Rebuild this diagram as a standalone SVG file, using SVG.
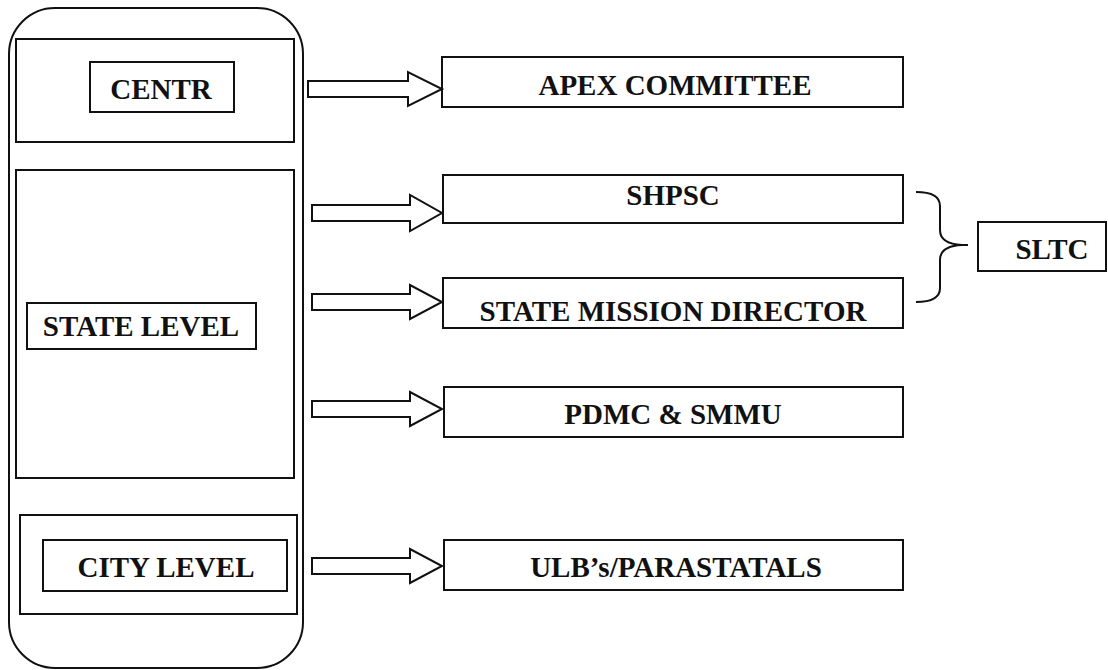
<svg xmlns="http://www.w3.org/2000/svg" width="1108" height="670" viewBox="0 0 1108 670">
<style>
.frame{fill:none;stroke:#111;stroke-width:2}
.box{fill:#fff;stroke:#111;stroke-width:2}
.arrow{fill:#fff;stroke:#111;stroke-width:2;stroke-linejoin:miter}
.lbl{font-family:'Liberation Serif','Times New Roman',serif;font-weight:bold;font-size:29px;fill:#111;text-anchor:middle}
</style>
<rect width="1108" height="670" fill="#fff"/>
<g id="outer">
<rect class="frame" x="9" y="8" width="294" height="660" rx="46" ry="46"/>
</g>
<g id="centre-section">
<rect class="frame" x="16" y="39" width="278" height="103"/>
</g>
<g id="centr">
<rect class="box" x="90" y="62" width="144" height="50"/>
<text class="lbl" x="161" y="99">CENTR</text>
</g>
<g id="state-section">
<rect class="frame" x="16" y="170" width="278" height="308"/>
</g>
<g id="state-level">
<rect class="box" x="27" y="303" width="229" height="46"/>
<text class="lbl" x="141" y="336">STATE LEVEL</text>
</g>
<g id="city-section">
<rect class="frame" x="20" y="515" width="277" height="99"/>
</g>
<g id="city-level">
<rect class="box" x="43" y="540" width="244" height="51"/>
<text class="lbl" x="166" y="577">CITY LEVEL</text>
</g>
<g id="apex">
<rect class="box" x="442" y="57" width="461" height="50"/>
<text class="lbl" x="675" y="95">APEX COMMITTEE</text>
</g>
<g id="shpsc">
<rect class="box" x="443" y="175" width="460" height="48"/>
<text class="lbl" x="673" y="205">SHPSC</text>
</g>
<g id="smd">
<rect class="box" x="443" y="278" width="460" height="50"/>
<text class="lbl" x="673" y="321">STATE MISSION DIRECTOR</text>
</g>
<g id="pdmc">
<rect class="box" x="444" y="387" width="459" height="50"/>
<text class="lbl" x="673" y="424">PDMC &amp; SMMU</text>
</g>
<g id="ulb">
<rect class="box" x="444" y="540" width="459" height="50"/>
<text class="lbl" x="676" y="577">ULB’s/PARASTATALS</text>
</g>
<g id="sltc">
<rect class="box" x="978" y="222" width="128" height="49"/>
<text class="lbl" x="1052" y="259">SLTC</text>
</g>
<g id="connectors">
<polygon class="arrow" points="308,81 408,81 408,72 442,89 408,106 408,97 308,97"/>
<polygon class="arrow" points="312,205 410,205 410,195 442,213 410,231 410,221 312,221"/>
<polygon class="arrow" points="312,294 410,294 410,285 442,302 410,319 410,310 312,310"/>
<polygon class="arrow" points="312,401 410,401 410,392 442,409 410,426 410,417 312,417"/>
<polygon class="arrow" points="312,558 410,558 410,549 442,566 410,583 410,574 312,574"/>
<path class="frame" d="M916,192 Q940,192 940,206 L940,230 Q940,244 962,245 L968,245 M962,245 Q940,246 940,260 L940,288 Q940,302 916,302"/>
</g>
</svg>
